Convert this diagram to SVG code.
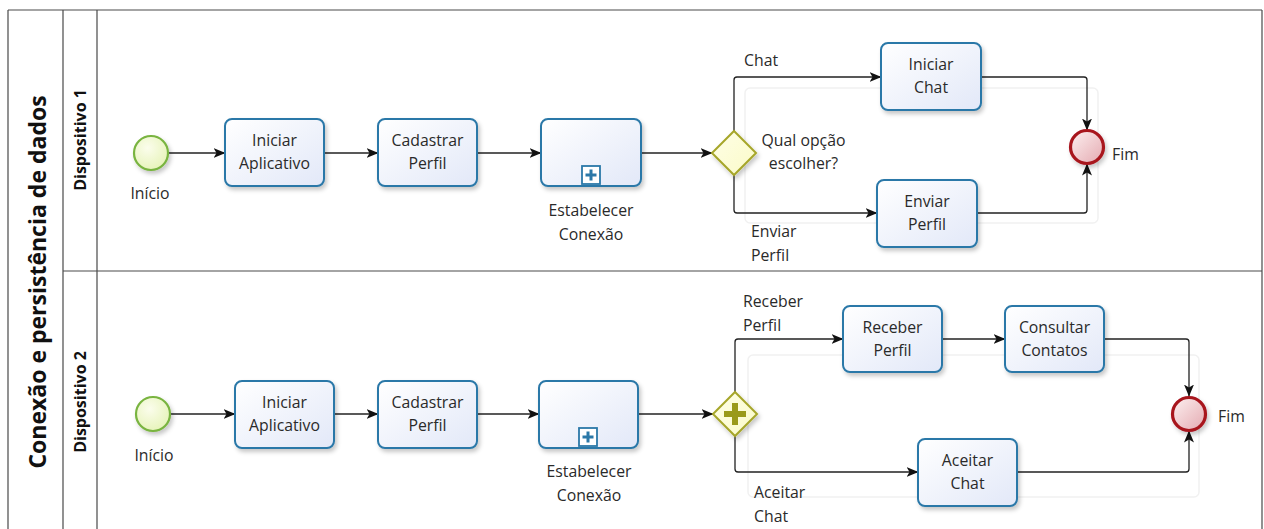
<svg xmlns="http://www.w3.org/2000/svg" width="1264" height="529" viewBox="0 0 1264 529">
  <style>
    text { font-family: "Open Sans", "Noto Sans", sans-serif; font-size: 15.8px; fill: #2a2a2a; }
    .pool { font-size: 23px; font-weight: bold; fill: #111; }
    .lane { font-size: 16px; font-weight: bold; fill: #111; }
    .c { text-anchor: middle; }
    .frame { fill: none; stroke: #4a4a4a; stroke-width: 1.2; }
    .task { fill: url(#taskFill); stroke: #2b78a8; stroke-width: 2; filter: url(#shadow); }
    .start { fill: url(#startFill); stroke: #79b440; stroke-width: 2.2; filter: url(#shadow); }
    .end { fill: url(#endFill); stroke: #a8141f; stroke-width: 3.2; filter: url(#shadow); }
    .gw { fill: url(#gwFill); stroke: #a6a629; stroke-width: 2; filter: url(#shadow); }
    .flow { fill: none; stroke: #222; stroke-width: 1.3; marker-end: url(#arrow); }
    .ghost { fill: none; stroke: #f1f1f1; stroke-width: 1.5; }
    .sub { fill: #fff; stroke: #2b78a8; stroke-width: 1.8; }
  </style>
  <defs>
    <linearGradient id="taskFill" x1="0" y1="0" x2="1" y2="1">
      <stop offset="0" stop-color="#ffffff"/>
      <stop offset="1" stop-color="#e2e8f8"/>
    </linearGradient>
    <radialGradient id="startFill" cx="0.4" cy="0.35" r="0.7">
      <stop offset="0" stop-color="#fbfdec"/>
      <stop offset="1" stop-color="#e6f3b8"/>
    </radialGradient>
    <linearGradient id="endFill" x1="0" y1="0" x2="1" y2="1">
      <stop offset="0" stop-color="#fdf1f1"/>
      <stop offset="1" stop-color="#e4a9b0"/>
    </linearGradient>
    <linearGradient id="gwFill" x1="0" y1="0" x2="1" y2="1">
      <stop offset="0" stop-color="#fefee6"/>
      <stop offset="1" stop-color="#fbfbc8"/>
    </linearGradient>
    <filter id="shadow" x="-20%" y="-20%" width="150%" height="160%">
      <feDropShadow dx="2" dy="3" stdDeviation="2.2" flood-color="#000" flood-opacity="0.22"/>
    </filter>
    <marker id="arrow" viewBox="0 0 12 10" refX="11.5" refY="5" markerWidth="12" markerHeight="10" markerUnits="userSpaceOnUse" orient="auto">
      <path d="M0,0 L12,5 L0,10 L3,5 Z" fill="#111"/>
    </marker>
  </defs>

  <!-- pool and lanes -->
  <g id="pool">
    <path class="frame" d="M8,10 H1262 M8,10 V529 M1262,10 V529 M63,10 V529 M97,10 V529 M63,271 H1262"/>
    <text class="pool c" transform="translate(46,282) rotate(-90)">Conexão e persistência de dados</text>
    <text class="lane c" transform="translate(86,140) rotate(-90)">Dispositivo 1</text>
    <text class="lane c" transform="translate(86,402) rotate(-90)">Dispositivo 2</text>
  </g>

  <!-- faint traces behind the branches -->
  <g id="traces">
    <rect class="ghost" x="745" y="88" width="353" height="135" rx="5"/>
    <rect class="ghost" x="748" y="355" width="451" height="142" rx="5"/>
  </g>

  <!-- sequence flows -->
  <g id="connectors">
    <path class="flow" d="M169,153 H225"/>
    <path class="flow" d="M324,153 H378"/>
    <path class="flow" d="M477,153 H541"/>
    <path class="flow" d="M641,153 H712"/>
    <path class="flow" d="M734,131 V80 Q734,77 737,77 H881"/>
    <path class="flow" d="M734,175 V210 Q734,213 737,213 H877"/>
    <path class="flow" d="M981,77 H1084 Q1087,77 1087,80 V130"/>
    <path class="flow" d="M977,213 H1084 Q1087,213 1087,210 V164"/>

    <path class="flow" d="M170,414 H235"/>
    <path class="flow" d="M334,414 H378"/>
    <path class="flow" d="M477,414 H539"/>
    <path class="flow" d="M638,414 H713"/>
    <path class="flow" d="M735,392 V342 Q735,339 738,339 H843"/>
    <path class="flow" d="M942,339 H1005"/>
    <path class="flow" d="M1104,339 H1186 Q1189,339 1189,342 V396"/>
    <path class="flow" d="M735,436 V469 Q735,472 738,472 H918"/>
    <path class="flow" d="M1017,472 H1186 Q1189,472 1189,469 V431"/>
  </g>

  <!-- Dispositivo 1 -->
  <g id="start1">
    <circle class="start" cx="151" cy="153" r="17"/>
    <text class="c" x="150" y="199">Início</text>
  </g>
  <g id="task1-iniciar-aplicativo">
    <rect class="task" x="225" y="119" width="99" height="67" rx="7"/>
    <text class="c" x="274.5" y="146">Iniciar</text>
    <text class="c" x="274.5" y="169">Aplicativo</text>
  </g>
  <g id="task1-cadastrar-perfil">
    <rect class="task" x="378" y="119" width="99" height="67" rx="7"/>
    <text class="c" x="427.5" y="146">Cadastrar</text>
    <text class="c" x="427.5" y="169">Perfil</text>
  </g>
  <g id="sub1-estabelecer-conexao">
    <rect class="task" x="541" y="119" width="100" height="67" rx="7"/>
    <rect class="sub" x="582" y="166" width="18" height="18"/>
    <path d="M591,169.5 V180.5 M585.5,175 H596.5" stroke="#2b78a8" stroke-width="3"/>
    <text class="c" x="591" y="216">Estabelecer</text>
    <text class="c" x="591" y="240">Conexão</text>
  </g>
  <g id="gw1-qual-opcao">
    <path class="gw" d="M734,131 L756,153 L734,175 L712,153 Z"/>
    <text class="c" x="803.5" y="146">Qual opção</text>
    <text class="c" x="803.5" y="169">escolher?</text>
  </g>
  <g id="labels1">
    <text x="744" y="66">Chat</text>
    <text x="751" y="237">Enviar</text>
    <text x="751" y="261">Perfil</text>
  </g>
  <g id="task1-iniciar-chat">
    <rect class="task" x="881" y="43" width="100" height="67" rx="7"/>
    <text class="c" x="931" y="70">Iniciar</text>
    <text class="c" x="931" y="93">Chat</text>
  </g>
  <g id="task1-enviar-perfil">
    <rect class="task" x="877" y="180" width="100" height="67" rx="7"/>
    <text class="c" x="927" y="207">Enviar</text>
    <text class="c" x="927" y="230">Perfil</text>
  </g>
  <g id="end1">
    <circle class="end" cx="1087" cy="147" r="16.5"/>
    <text x="1112" y="160">Fim</text>
  </g>

  <!-- Dispositivo 2 -->
  <g id="start2">
    <circle class="start" cx="153" cy="414" r="17"/>
    <text class="c" x="154" y="461">Início</text>
  </g>
  <g id="task2-iniciar-aplicativo">
    <rect class="task" x="235" y="381" width="99" height="67" rx="7"/>
    <text class="c" x="284.5" y="408">Iniciar</text>
    <text class="c" x="284.5" y="431">Aplicativo</text>
  </g>
  <g id="task2-cadastrar-perfil">
    <rect class="task" x="378" y="381" width="99" height="67" rx="7"/>
    <text class="c" x="427.5" y="408">Cadastrar</text>
    <text class="c" x="427.5" y="431">Perfil</text>
  </g>
  <g id="sub2-estabelecer-conexao">
    <rect class="task" x="539" y="381" width="99" height="67" rx="7"/>
    <rect class="sub" x="579" y="428" width="18" height="18"/>
    <path d="M588,431.5 V442.5 M582.5,437 H593.5" stroke="#2b78a8" stroke-width="3"/>
    <text class="c" x="589" y="477">Estabelecer</text>
    <text class="c" x="589" y="501">Conexão</text>
  </g>
  <g id="gw2-paralelo">
    <path class="gw" d="M735,392 L757,414 L735,436 L713,414 Z"/>
    <path d="M735,403 V425 M724,414 H746" stroke="#9a9a1a" stroke-width="6"/>
  </g>
  <g id="labels2">
    <text x="743" y="307">Receber</text>
    <text x="743" y="331">Perfil</text>
    <text x="754" y="498">Aceitar</text>
    <text x="754" y="522">Chat</text>
  </g>
  <g id="task2-receber-perfil">
    <rect class="task" x="843" y="306" width="99" height="66" rx="7"/>
    <text class="c" x="892.5" y="333">Receber</text>
    <text class="c" x="892.5" y="356">Perfil</text>
  </g>
  <g id="task2-consultar-contatos">
    <rect class="task" x="1005" y="306" width="99" height="66" rx="7"/>
    <text class="c" x="1054.5" y="333">Consultar</text>
    <text class="c" x="1054.5" y="356">Contatos</text>
  </g>
  <g id="task2-aceitar-chat">
    <rect class="task" x="918" y="439" width="99" height="67" rx="7"/>
    <text class="c" x="967.5" y="466">Aceitar</text>
    <text class="c" x="967.5" y="489">Chat</text>
  </g>
  <g id="end2">
    <circle class="end" cx="1189" cy="414" r="16.5"/>
    <text x="1218" y="422">Fim</text>
  </g>
</svg>
